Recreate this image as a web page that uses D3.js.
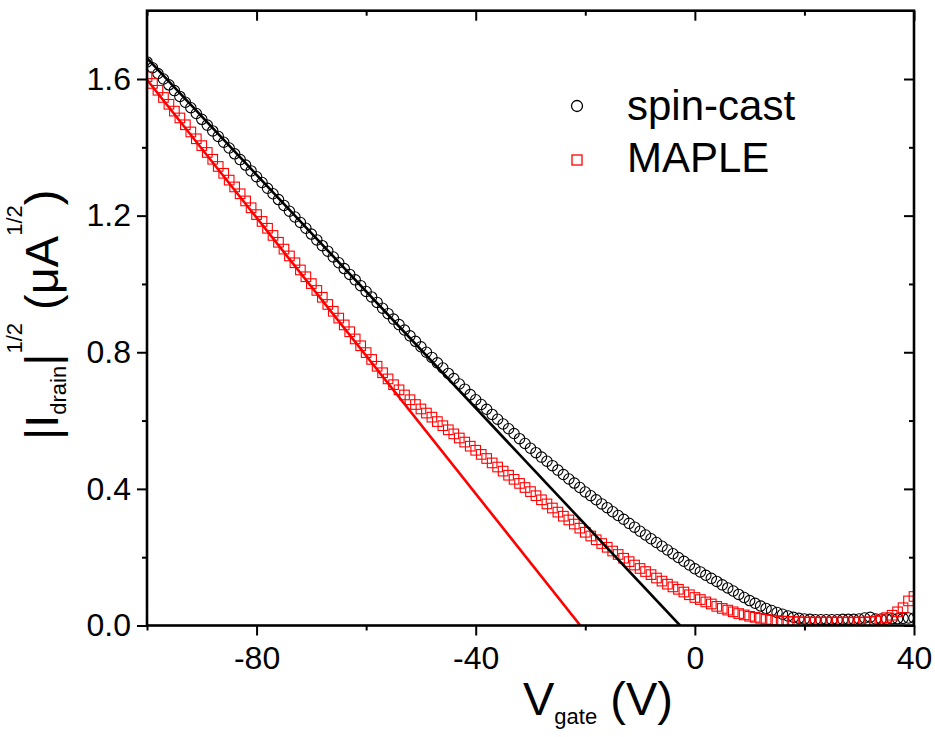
<!DOCTYPE html>
<html>
<head>
<meta charset="utf-8">
<script src="https://cdn.jsdelivr.net/npm/d3@7"></script>
<style>
  body { margin: 0; background: #fff; }
  svg { font-family: "Liberation Sans", Arial, sans-serif; }
</style>
</head>
<body>
<svg width="935" height="737"></svg>
<script>
// gate sweep (V)
const vGate = [-100,-99,-98,-97,-96,-95,-94,-93,-92,-91,-90,-89,-88,-87,-86,-85,-84,-83,-82,-81,
  -80,-79,-78,-77,-76,-75,-74,-73,-72,-71,-70,-69,-68,-67,-66,-65,-64,-63,-62,-61,
  -60,-59,-58,-57,-56,-55,-54,-53,-52,-51,-50,-49,-48,-47,-46,-45,-44,-43,-42,-41,
  -40,-39,-38,-37,-36,-35,-34,-33,-32,-31,-30,-29,-28,-27,-26,-25,-24,-23,-22,-21,
  -20,-19,-18,-17,-16,-15,-14,-13,-12,-11,-10,-9,-8,-7,-6,-5,-4,-3,-2,-1,
  0,1,2,3,4,5,6,7,8,9,10,11,12,13,14,15,16,17,18,19,
  20,21,22,23,24,25,26,27,28,29,30,31,32,33,34,35,36,37,38,39,40];

// |I_drain|^1/2 (uA^1/2)
const spinCast = [1.650,1.633,1.616,1.600,1.583,1.566,1.549,1.532,1.516,1.499,
  1.482,1.465,1.448,1.432,1.415,1.398,1.381,1.364,1.348,1.331,
  1.314,1.297,1.280,1.264,1.247,1.230,1.213,1.196,1.180,1.163,
  1.146,1.129,1.112,1.096,1.079,1.062,1.045,1.028,1.012,0.995,
  0.978,0.962,0.946,0.929,0.913,0.897,0.881,0.865,0.848,0.832,
  0.816,0.800,0.785,0.769,0.754,0.738,0.723,0.707,0.692,0.676,
  0.661,0.647,0.633,0.618,0.604,0.590,0.576,0.562,0.547,0.533,
  0.519,0.506,0.493,0.481,0.468,0.455,0.442,0.429,0.417,0.404,
  0.391,0.380,0.368,0.356,0.345,0.333,0.322,0.311,0.299,0.288,
  0.276,0.265,0.254,0.243,0.232,0.221,0.210,0.199,0.188,0.177,
  0.166,0.157,0.147,0.138,0.129,0.119,0.110,0.101,0.091,0.082,
  0.073,0.065,0.057,0.050,0.044,0.038,0.033,0.028,0.024,0.021,
  0.019,0.018,0.017,0.017,0.017,0.017,0.017,0.018,0.018,0.018,
  0.019,0.022,0.024,0.019,0.019,0.019,0.020,0.020,0.021,0.022,0.022];

const maple = [1.607,1.587,1.567,1.546,1.526,1.506,1.486,1.466,1.445,1.425,
  1.405,1.385,1.365,1.344,1.324,1.304,1.284,1.264,1.243,1.223,
  1.203,1.183,1.163,1.142,1.122,1.102,1.082,1.062,1.041,1.021,
  1.001,0.981,0.961,0.940,0.920,0.900,0.880,0.860,0.839,0.819,
  0.799,0.779,0.759,0.740,0.722,0.705,0.690,0.675,0.661,0.647,
  0.634,0.622,0.610,0.597,0.585,0.573,0.561,0.549,0.537,0.525,
  0.513,0.501,0.489,0.476,0.464,0.452,0.440,0.428,0.416,0.404,
  0.392,0.380,0.368,0.356,0.344,0.332,0.320,0.309,0.297,0.285,
  0.273,0.262,0.251,0.240,0.229,0.218,0.208,0.197,0.187,0.177,
  0.167,0.158,0.149,0.139,0.130,0.121,0.113,0.106,0.098,0.090,
  0.082,0.076,0.069,0.063,0.056,0.050,0.045,0.040,0.035,0.031,
  0.027,0.024,0.021,0.018,0.016,0.014,0.013,0.012,0.011,0.011,
  0.010,0.010,0.010,0.010,0.010,0.010,0.010,0.010,0.010,0.010,
  0.010,0.010,0.011,0.013,0.017,0.023,0.030,0.040,0.052,0.072,0.085];

// linear fits (V, value) end points
const spinCastFit = [[-100, 1.661], [-2.7, 0]];
const mapleFit = [[-100, 1.598], [-20.9, 0]];

const xTicks = [-80, -40, 0, 40];
const xMinor = [-100, -60, -20, 20];
const yTicks = [0, 0.4, 0.8, 1.2, 1.6];
const yMinor = [0.2, 0.6, 1.0, 1.4];
const legendNames = ["spin-cast", "MAPLE"];

const plotLeft = 147, plotRight = 914, plotTop = 10.7, plotBottom = 625.5;
const svg = d3.select("svg");

const x = d3.scaleLinear().domain([-100, 40]).range([plotLeft, plotRight]);
const y = d3.scaleLinear().domain([0, 1.8]).range([plotBottom, plotTop]);

svg.append("clipPath").attr("id", "plot")
  .append("rect")
  .attr("x", plotLeft).attr("y", plotTop)
  .attr("width", plotRight - plotLeft).attr("height", plotBottom - plotTop);

const plot = svg.append("g").attr("clip-path", "url(#plot)");

// spin-cast circles
plot.append("g").selectAll("circle")
  .data(vGate)
  .enter()
  .append("circle")
  .attr("cx", d => x(d))
  .attr("cy", (d, i) => y(spinCast[i]))
  .attr("r", 5.2)
  .attr("fill", "none")
  .attr("stroke", "#000")
  .attr("stroke-width", 1.1);

// MAPLE squares
const sq = 9.6;
plot.append("g").selectAll("rect")
  .data(vGate)
  .enter()
  .append("rect")
  .attr("x", d => x(d) - sq / 2)
  .attr("y", (d, i) => y(maple[i]) - sq / 2)
  .attr("width", sq)
  .attr("height", sq)
  .attr("fill", "none")
  .attr("stroke", "#ff0000")
  .attr("stroke-width", 1.1);

// fit lines
const line = d3.line().x(d => x(d[0])).y(d => y(d[1]));
plot.append("path").datum(spinCastFit)
  .attr("d", line).attr("fill", "none")
  .attr("stroke", "#000").attr("stroke-width", 2.6);
plot.append("path").datum(mapleFit)
  .attr("d", line).attr("fill", "none")
  .attr("stroke", "#ff0000").attr("stroke-width", 2.6);

// axes
function styleAxis(g) {
  g.select(".domain").remove();
  g.selectAll(".tick line").attr("stroke", "#000").attr("stroke-width", 2);
  g.selectAll("text").attr("fill", "#000").attr("font-size", 32)
    .attr("font-family", "'Liberation Sans', Arial, sans-serif");
}

svg.append("g")
  .attr("transform", `translate(0,${plotBottom})`)
  .call(d3.axisBottom(x).tickValues(xTicks).tickSize(10).tickPadding(11)
    .tickFormat(d => String(d)))
  .call(styleAxis);
svg.append("g")
  .attr("transform", `translate(0,${plotBottom})`)
  .call(d3.axisBottom(x).tickValues(xMinor).tickSize(5).tickFormat(""))
  .call(styleAxis);

svg.append("g")
  .attr("transform", `translate(${plotLeft},0)`)
  .call(d3.axisLeft(y).tickValues(yTicks).tickSize(10).tickPadding(6)
    .tickFormat(d3.format(".1f")))
  .call(styleAxis);
svg.append("g")
  .attr("transform", `translate(${plotLeft},0)`)
  .call(d3.axisLeft(y).tickValues(yMinor).tickSize(5).tickFormat(""))
  .call(styleAxis);

// mirror axes with inward ticks
svg.append("g")
  .attr("transform", `translate(0,${plotTop})`)
  .call(d3.axisTop(x).tickValues(xTicks).tickSize(-10).tickFormat(""))
  .call(styleAxis);
svg.append("g")
  .attr("transform", `translate(0,${plotTop})`)
  .call(d3.axisTop(x).tickValues(xMinor).tickSize(-5).tickFormat(""))
  .call(styleAxis);
svg.append("g")
  .attr("transform", `translate(${plotRight},0)`)
  .call(d3.axisRight(y).tickValues(yTicks).tickSize(-10).tickFormat(""))
  .call(styleAxis);
svg.append("g")
  .attr("transform", `translate(${plotRight},0)`)
  .call(d3.axisRight(y).tickValues(yMinor).tickSize(-5).tickFormat(""))
  .call(styleAxis);

// frame
svg.append("rect")
  .attr("x", plotLeft).attr("y", plotTop)
  .attr("width", plotRight - plotLeft).attr("height", plotBottom - plotTop)
  .attr("fill", "none").attr("stroke", "#000").attr("stroke-width", 2.6);

// legend
const legend = svg.append("g");
legend.append("circle")
  .attr("cx", 577).attr("cy", 106).attr("r", 5.5)
  .attr("fill", "none").attr("stroke", "#000").attr("stroke-width", 1.3);
legend.append("rect")
  .attr("x", 572).attr("y", 155).attr("width", 10).attr("height", 10)
  .attr("fill", "none").attr("stroke", "#ff0000").attr("stroke-width", 1.3);
legend.selectAll("text")
  .data(legendNames)
  .enter()
  .append("text")
  .attr("x", 627)
  .attr("y", (d, i) => 120 + i * 52)
  .attr("font-size", 42)
  .text(d => d);

// x title
const xt = svg.append("text")
  .attr("x", 523).attr("y", 715)
  .attr("font-size", 47);
xt.append("tspan").text("V");
xt.append("tspan").attr("font-size", 22).attr("dy", 9).text("gate");
xt.append("tspan").attr("dy", -9).text(" (V)");

// y title
const yt = svg.append("text")
  .attr("transform", "translate(58,440) rotate(-90)")
  .attr("font-size", 47);
yt.append("tspan").text("|I");
yt.append("tspan").attr("font-size", 22).attr("dy", 8).text("drain");
yt.append("tspan").attr("dy", -8).text("|");
yt.append("tspan").attr("font-size", 22).attr("dy", -36).text("1/2");
yt.append("tspan").attr("dy", 36).text(" (\u03bcA");
yt.append("tspan").attr("font-size", 22).attr("dy", -36).text("1/2");
yt.append("tspan").attr("dy", 36).text(")");
</script>
</body>
</html>
